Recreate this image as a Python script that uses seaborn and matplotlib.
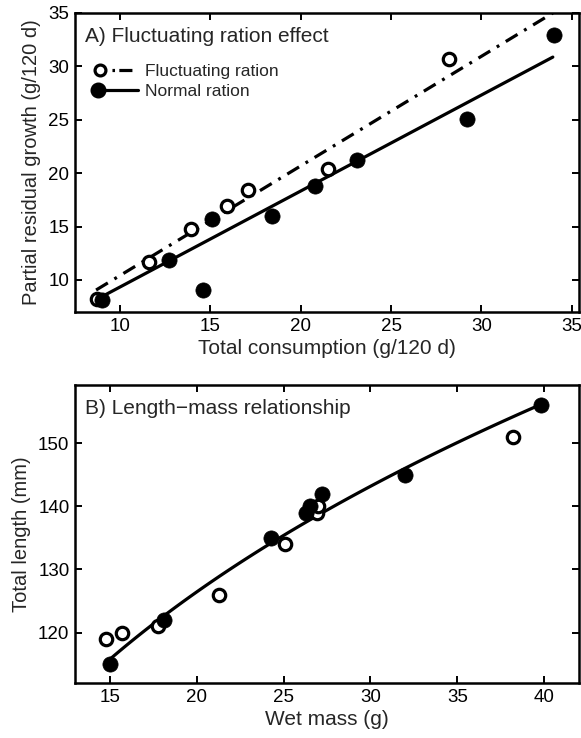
import numpy as np
import pandas as pd
import matplotlib
matplotlib.use("Agg")
import matplotlib.pyplot as plt
from matplotlib.lines import Line2D
from matplotlib.legend_handler import HandlerLine2D
import seaborn as sns

# ---- Panel A data ----
fluct_cons = [8.7, 11.6, 13.9, 15.9, 17.1, 21.5, 28.2]
fluct_growth = [8.2, 11.7, 14.8, 16.9, 18.4, 20.4, 30.7]
normal_cons = [9.0, 12.7, 14.6, 15.1, 18.4, 20.8, 23.1, 29.2, 34.0]
normal_growth = [8.1, 11.9, 9.1, 15.7, 16.0, 18.8, 21.2, 25.1, 32.9]
fluct_fit_x = [8.67, 33.95]
fluct_fit_y = [9.06, 35.0]
normal_fit_x = [8.99, 33.95]
normal_fit_y = [8.44, 30.87]

# ---- Panel B data ----
open_mass = [14.8, 15.7, 17.8, 21.3, 25.1, 26.9, 27.0, 38.2]
open_length = [119, 120, 121, 126, 134, 139, 140, 151]
filled_mass = [15.0, 18.1, 24.3, 26.3, 26.5, 27.2, 32.0, 39.8]
filled_length = [115, 122, 135, 139, 140, 142, 145, 156]
lm_a = 50.44
lm_b = 0.3067
lm_range = [15.0, 39.85]

sns.set_theme(style="ticks")
plt.rcParams['font.family'] = ['Liberation Sans', 'DejaVu Sans']


class LeftMarkerHandler(HandlerLine2D):
    """Legend handler drawing the marker near the left end of the line."""

    def __init__(self, offset_pts=5.0, **kw):
        super().__init__(**kw)
        self.offset_pts = offset_pts

    def create_artists(self, legend, orig_handle, xdescent, ydescent, width,
                       height, fontsize, trans):
        artists = super().create_artists(legend, orig_handle, xdescent,
                                         ydescent, width, height, fontsize,
                                         trans)
        line = artists[0]
        xd = np.asarray(line.get_xdata(), dtype=float)
        yd = np.asarray(line.get_ydata(), dtype=float)
        if len(xd) == 3:
            line.set_data([xd[0], xd[0] + self.offset_pts, xd[-1]], yd)
        return artists


fig = plt.figure(figsize=(5.81, 7.38), dpi=100)
axA = fig.add_axes([0.129, 0.5772, 0.8676, 0.4052])
axB = fig.add_axes([0.129, 0.0745, 0.8676, 0.4038])

LW = 2.3
DASHDOT = (0, (4.3, 2.4, 0.9, 2.4))
ms_open = 80
ms_fill = 120

# Panel A
sns.lineplot(x=fluct_fit_x, y=fluct_fit_y, ax=axA, color='black', lw=LW,
             linestyle=DASHDOT)
sns.lineplot(x=normal_fit_x, y=normal_fit_y, ax=axA, color='black', lw=LW)
sns.scatterplot(x=fluct_cons, y=fluct_growth, ax=axA, s=ms_open, marker='o',
                facecolor='white', edgecolor='black', linewidth=2.3, zorder=3)
sns.scatterplot(x=normal_cons, y=normal_growth, ax=axA, s=ms_fill, marker='o',
                color='black', edgecolor='black', linewidth=0.5, zorder=4)
axA.set_xlim(7.5, 35.4)
axA.set_ylim(7.0, 35.0)
axA.set_xticks([10, 15, 20, 25, 30, 35])
axA.set_yticks([10, 15, 20, 25, 30, 35])
axA.set_xlabel('Total consumption (g/120 d)', fontsize=15, labelpad=3)
axA.set_ylabel('Partial residual growth (g/120 d)', fontsize=14.5, labelpad=5)
axA.text(0.02, 0.952, 'A) Fluctuating ration effect', transform=axA.transAxes,
         fontsize=15, va='top', ha='left')
h_fluct = Line2D([], [], color='black', lw=LW,
                 linestyle=(30, (0.8, 1.35, 4.1, 30)),
                 marker='o', markersize=7.8, markerfacecolor='white',
                 markeredgewidth=2.3)
h_norm = Line2D([], [], color='black', lw=LW, marker='o', markersize=10.5,
                markerfacecolor='black')
axA.legend([h_fluct, h_norm], ['Fluctuating ration', 'Normal ration'],
           loc='upper left', bbox_to_anchor=(0.033, 0.83), frameon=False,
           fontsize=12.5, handlelength=2.7, handletextpad=0.35,
           labelspacing=0.3, borderaxespad=0.0, borderpad=0.0,
           handler_map={h_fluct: LeftMarkerHandler(offset_pts=6.0),
                        h_norm: LeftMarkerHandler(offset_pts=4.8)})

# Panel B
curve_x = np.linspace(lm_range[0], lm_range[1], 100)
curve_y = lm_a * curve_x ** lm_b
sns.lineplot(x=curve_x, y=curve_y, ax=axB, color='black', lw=LW)
sns.scatterplot(x=open_mass, y=open_length, ax=axB, s=ms_open, marker='o',
                facecolor='white', edgecolor='black', linewidth=2.3, zorder=3)
sns.scatterplot(x=filled_mass, y=filled_length, ax=axB, s=ms_fill, marker='o',
                color='black', edgecolor='black', linewidth=0.5, zorder=4)
axB.set_xlim(13.0, 42.0)
axB.set_ylim(112.0, 159.2)
axB.set_xticks([15, 20, 25, 30, 35, 40])
axB.set_yticks([120, 130, 140, 150])
axB.set_xlabel('Wet mass (g)', fontsize=15, labelpad=3)
axB.set_ylabel('Total length (mm)', fontsize=14.5, labelpad=5)
axB.text(0.02, 0.952, 'B) Length\u2212mass relationship', transform=axB.transAxes,
         fontsize=15, va='top', ha='left')

for ax in (axA, axB):
    ax.tick_params(axis='both', which='both', direction='in', top=True,
                   right=True, length=5, width=1.4, labelsize=13.5, pad=4,
                   colors='black')
    for sp in ax.spines.values():
        sp.set_visible(True)
        sp.set_linewidth(1.8)
        sp.set_color('black')

fig.savefig('out.png', dpi=100)
